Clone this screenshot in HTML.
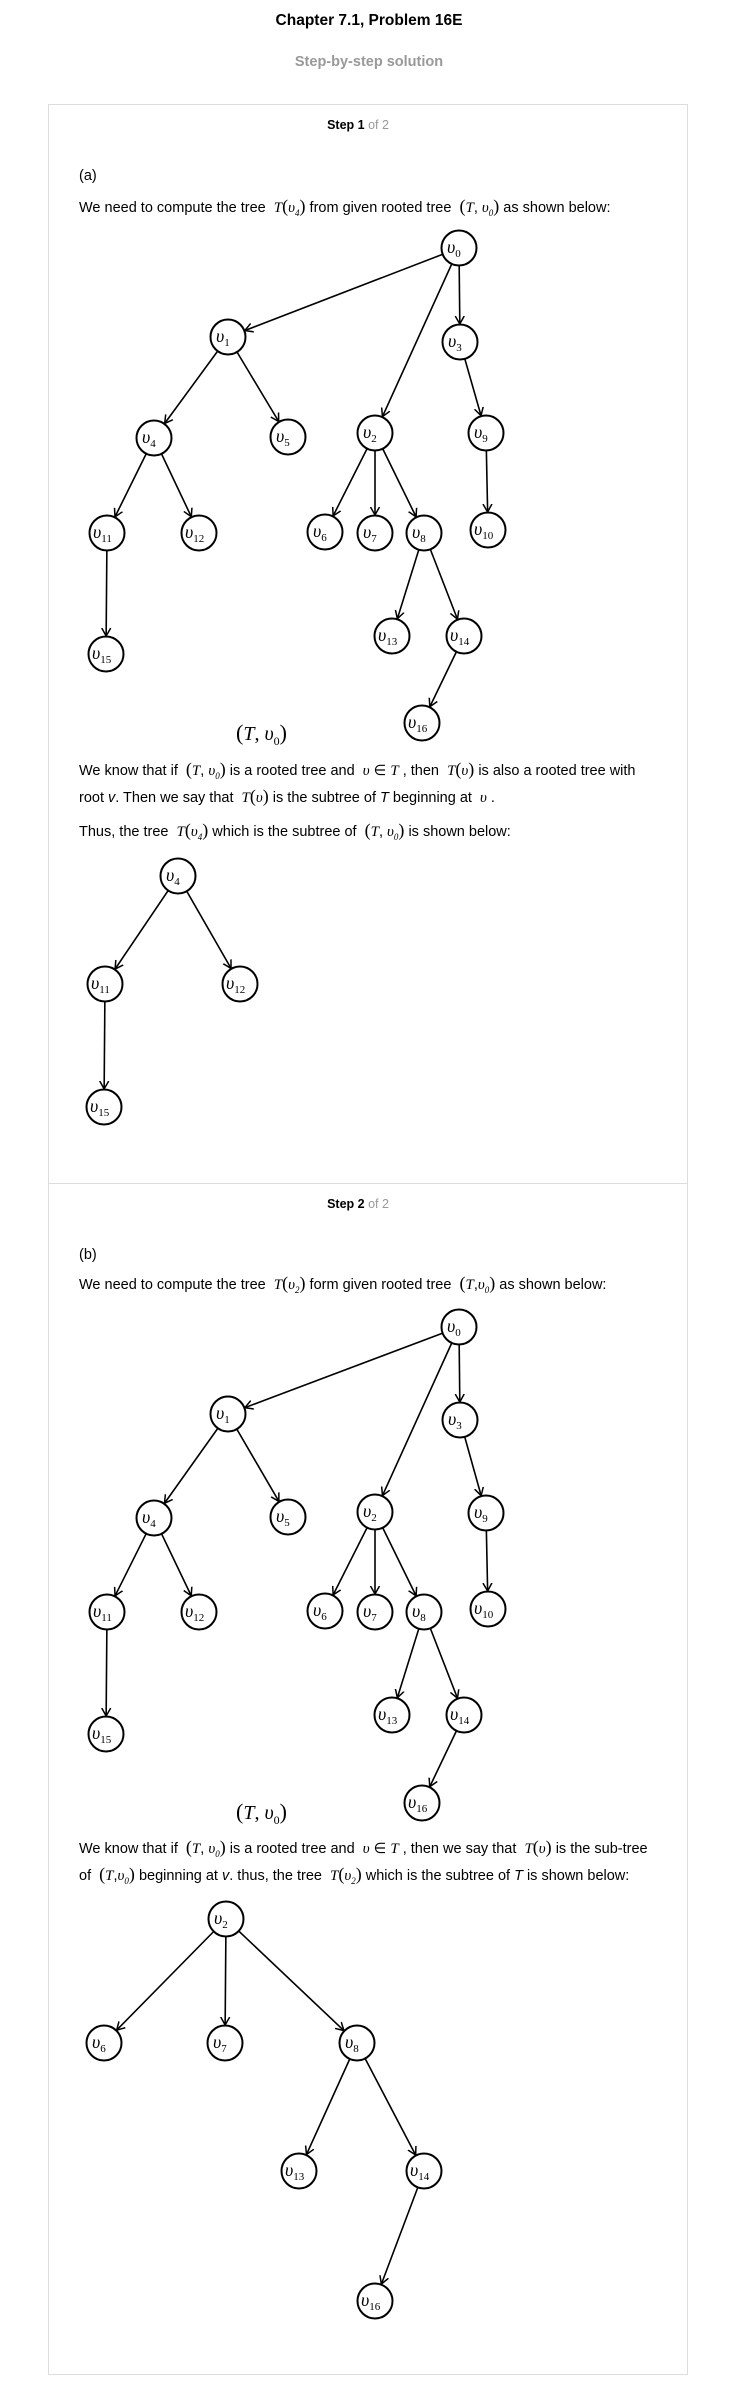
<!DOCTYPE html>
<html><head><meta charset="utf-8"><style>
body{margin:0;width:738px;height:2401px;position:relative;background:#fff;font-family:"Liberation Sans",Arial,sans-serif;color:#000;overflow:hidden}
.a{position:absolute;white-space:nowrap}
.t{font-size:14.5px;left:79px;line-height:18px}
.m{font-family:"Liberation Serif",serif;font-style:italic;font-size:15px}
.p{font-family:"Liberation Serif",serif;font-size:18px;font-style:normal}
.card{position:absolute;left:48px;width:640px;border:1px solid #ddd;box-sizing:border-box}
.st{font-size:12.5px;font-weight:bold;left:0;width:716px;text-align:center}
.st span{color:#999;font-weight:normal}
svg{position:absolute;left:0;top:0}
svg text{font-family:"Liberation Serif",serif}
</style></head><body>
<div class="a" style="top:12px;left:0;width:738px;text-align:center;font-weight:bold;font-size:15.5px">Chapter 7.1, Problem 16E</div>
<div class="a" style="top:54px;left:0;width:738px;text-align:center;font-weight:bold;font-size:14.5px;color:#999">Step-by-step solution</div>
<div class="card" style="top:104px;height:1080px"></div>
<div class="card" style="top:1183px;height:1192px"></div>
<div class="a st" style="top:118px">Step 1 <span>of 2</span></div>
<div class="a t" style="top:167px">(a)</div>
<div class="a t" style="top:197px">We need to compute the tree &nbsp;<span class="m">T</span><span class="p">(</span><span class="m">υ<sub style="font-size:9px">4</sub></span><span class="p">)</span> from given rooted tree &nbsp;<span class="p">(</span><span class="m">T</span>, <span class="m">υ<sub style="font-size:9px">0</sub></span><span class="p">)</span> as shown below:</div>
<div class="a" style="top:720px;left:236px;font-family:'Liberation Serif',serif;font-size:20px"><span class="p" style="font-size:22px">(</span><i>T</i>, <i>υ</i><sub style="font-size:12px">0</sub><span class="p" style="font-size:22px">)</span></div>
<div class="a t" style="top:760px">We know that if &nbsp;<span class="p">(</span><span class="m">T</span>, <span class="m">υ<sub style="font-size:9px">0</sub></span><span class="p">)</span> is a rooted tree and &nbsp;<span class="m">υ</span> ∈ <span class="m">T</span> , then &nbsp;<span class="m">T</span><span class="p">(</span><span class="m">υ</span><span class="p">)</span> is also a rooted tree with</div>
<div class="a t" style="top:787px">root <i>v</i>. Then we say that &nbsp;<span class="m">T</span><span class="p">(</span><span class="m">υ</span><span class="p">)</span> is the subtree of <i>T</i> beginning at &nbsp;<span class="m">υ</span> .</div>
<div class="a t" style="top:821px">Thus, the tree &nbsp;<span class="m">T</span><span class="p">(</span><span class="m">υ<sub style="font-size:9px">4</sub></span><span class="p">)</span> which is the subtree of &nbsp;<span class="p">(</span><span class="m">T</span>, <span class="m">υ<sub style="font-size:9px">0</sub></span><span class="p">)</span> is shown below:</div>

<div class="a st" style="top:1197px">Step 2 <span>of 2</span></div>
<div class="a t" style="top:1246px">(b)</div>
<div class="a t" style="top:1274px">We need to compute the tree &nbsp;<span class="m">T</span><span class="p">(</span><span class="m">υ<sub style="font-size:9px">2</sub></span><span class="p">)</span> form given rooted tree &nbsp;<span class="p">(</span><span class="m">T</span>,<span class="m">υ<sub style="font-size:9px">0</sub></span><span class="p">)</span> as shown below:</div>
<div class="a" style="top:1799px;left:236px;font-family:'Liberation Serif',serif;font-size:20px"><span class="p" style="font-size:22px">(</span><i>T</i>, <i>υ</i><sub style="font-size:12px">0</sub><span class="p" style="font-size:22px">)</span></div>
<div class="a t" style="top:1838px">We know that if &nbsp;<span class="p">(</span><span class="m">T</span>, <span class="m">υ<sub style="font-size:9px">0</sub></span><span class="p">)</span> is a rooted tree and &nbsp;<span class="m">υ</span> ∈ <span class="m">T</span> , then we say that &nbsp;<span class="m">T</span><span class="p">(</span><span class="m">υ</span><span class="p">)</span> is the sub-tree</div>
<div class="a t" style="top:1865px">of &nbsp;<span class="p">(</span><span class="m">T</span>,<span class="m">υ<sub style="font-size:9px">0</sub></span><span class="p">)</span> beginning at <i>v</i>. thus, the tree &nbsp;<span class="m">T</span><span class="p">(</span><span class="m">υ<sub style="font-size:9px">2</sub></span><span class="p">)</span> which is the subtree of <i>T</i> is shown below:</div>

<svg width="738" height="2401" viewBox="0 0 738 2401">
<defs><marker id="ar" markerUnits="userSpaceOnUse" markerWidth="32" markerHeight="12" viewBox="0 -6 32 12" refX="26" refY="0" orient="auto"><path d="M0,-4.5 L8,0 L0,4.5" fill="none" stroke="#000" stroke-width="1.5"/></marker></defs>
<g stroke="#000" stroke-width="1.6" marker-end="url(#ar)">
<line x1="459" y1="248" x2="228" y2="337"/><line x1="459" y1="248" x2="375" y2="433"/><line x1="459" y1="248" x2="460" y2="342"/>
<line x1="228" y1="337" x2="154" y2="438"/><line x1="228" y1="337" x2="288" y2="437"/><line x1="460" y1="342" x2="486" y2="433"/>
<line x1="154" y1="438" x2="107" y2="533"/><line x1="154" y1="438" x2="199" y2="533"/>
<line x1="375" y1="433" x2="325" y2="532"/><line x1="375" y1="433" x2="375" y2="533"/><line x1="375" y1="433" x2="424" y2="533"/>
<line x1="486" y1="433" x2="488" y2="530"/><line x1="107" y1="533" x2="106" y2="654"/>
<line x1="424" y1="533" x2="392" y2="636"/><line x1="424" y1="533" x2="464" y2="636"/><line x1="464" y1="636" x2="422" y2="723"/>
<line x1="178" y1="876" x2="105" y2="984"/><line x1="178" y1="876" x2="240" y2="984"/><line x1="105" y1="984" x2="104" y2="1107"/>
<line x1="459" y1="1327" x2="228" y2="1414"/><line x1="459" y1="1327" x2="375" y2="1512"/><line x1="459" y1="1327" x2="460" y2="1420"/>
<line x1="228" y1="1414" x2="154" y2="1518"/><line x1="228" y1="1414" x2="288" y2="1517"/><line x1="460" y1="1420" x2="486" y2="1513"/>
<line x1="154" y1="1518" x2="107" y2="1612"/><line x1="154" y1="1518" x2="199" y2="1612"/>
<line x1="375" y1="1512" x2="325" y2="1611"/><line x1="375" y1="1512" x2="375" y2="1612"/><line x1="375" y1="1512" x2="424" y2="1612"/>
<line x1="486" y1="1513" x2="488" y2="1609"/><line x1="107" y1="1612" x2="106" y2="1734"/>
<line x1="424" y1="1612" x2="392" y2="1715"/><line x1="424" y1="1612" x2="464" y2="1715"/><line x1="464" y1="1715" x2="422" y2="1803"/>
<line x1="226" y1="1919" x2="104" y2="2043"/><line x1="226" y1="1919" x2="225" y2="2043"/><line x1="226" y1="1919" x2="357" y2="2043"/>
<line x1="357" y1="2043" x2="299" y2="2171"/><line x1="357" y1="2043" x2="424" y2="2171"/><line x1="424" y1="2171" x2="375" y2="2301"/>
</g>
<g fill="#fff" stroke="#000" stroke-width="2">
<circle cx="459" cy="248" r="17.5"/><circle cx="228" cy="337" r="17.5"/><circle cx="460" cy="342" r="17.5"/><circle cx="154" cy="438" r="17.5"/><circle cx="288" cy="437" r="17.5"/><circle cx="375" cy="433" r="17.5"/><circle cx="486" cy="433" r="17.5"/><circle cx="107" cy="533" r="17.5"/><circle cx="199" cy="533" r="17.5"/><circle cx="325" cy="532" r="17.5"/><circle cx="375" cy="533" r="17.5"/><circle cx="424" cy="533" r="17.5"/><circle cx="488" cy="530" r="17.5"/><circle cx="106" cy="654" r="17.5"/><circle cx="392" cy="636" r="17.5"/><circle cx="464" cy="636" r="17.5"/><circle cx="422" cy="723" r="17.5"/>
<circle cx="178" cy="876" r="17.5"/><circle cx="105" cy="984" r="17.5"/><circle cx="240" cy="984" r="17.5"/><circle cx="104" cy="1107" r="17.5"/>
<circle cx="459" cy="1327" r="17.5"/><circle cx="228" cy="1414" r="17.5"/><circle cx="460" cy="1420" r="17.5"/><circle cx="154" cy="1518" r="17.5"/><circle cx="288" cy="1517" r="17.5"/><circle cx="375" cy="1512" r="17.5"/><circle cx="486" cy="1513" r="17.5"/><circle cx="107" cy="1612" r="17.5"/><circle cx="199" cy="1612" r="17.5"/><circle cx="325" cy="1611" r="17.5"/><circle cx="375" cy="1612" r="17.5"/><circle cx="424" cy="1612" r="17.5"/><circle cx="488" cy="1609" r="17.5"/><circle cx="106" cy="1734" r="17.5"/><circle cx="392" cy="1715" r="17.5"/><circle cx="464" cy="1715" r="17.5"/><circle cx="422" cy="1803" r="17.5"/>
<circle cx="226" cy="1919" r="17.5"/><circle cx="104" cy="2043" r="17.5"/><circle cx="225" cy="2043" r="17.5"/><circle cx="357" cy="2043" r="17.5"/><circle cx="299" cy="2171" r="17.5"/><circle cx="424" cy="2171" r="17.5"/><circle cx="375" cy="2301" r="17.5"/>
</g>
<g font-size="18" font-style="italic">
<text x="447" y="253">υ<tspan font-size="11" font-style="normal" dy="4">0</tspan></text>
<text x="216" y="342">υ<tspan font-size="11" font-style="normal" dy="4">1</tspan></text>
<text x="448" y="347">υ<tspan font-size="11" font-style="normal" dy="4">3</tspan></text>
<text x="142" y="443">υ<tspan font-size="11" font-style="normal" dy="4">4</tspan></text>
<text x="276" y="442">υ<tspan font-size="11" font-style="normal" dy="4">5</tspan></text>
<text x="363" y="438">υ<tspan font-size="11" font-style="normal" dy="4">2</tspan></text>
<text x="474" y="438">υ<tspan font-size="11" font-style="normal" dy="4">9</tspan></text>
<text x="93" y="538">υ<tspan font-size="11" font-style="normal" dy="4">11</tspan></text>
<text x="185" y="538">υ<tspan font-size="11" font-style="normal" dy="4">12</tspan></text>
<text x="313" y="537">υ<tspan font-size="11" font-style="normal" dy="4">6</tspan></text>
<text x="363" y="538">υ<tspan font-size="11" font-style="normal" dy="4">7</tspan></text>
<text x="412" y="538">υ<tspan font-size="11" font-style="normal" dy="4">8</tspan></text>
<text x="474" y="535">υ<tspan font-size="11" font-style="normal" dy="4">10</tspan></text>
<text x="92" y="659">υ<tspan font-size="11" font-style="normal" dy="4">15</tspan></text>
<text x="378" y="641">υ<tspan font-size="11" font-style="normal" dy="4">13</tspan></text>
<text x="450" y="641">υ<tspan font-size="11" font-style="normal" dy="4">14</tspan></text>
<text x="408" y="728">υ<tspan font-size="11" font-style="normal" dy="4">16</tspan></text>
<text x="166" y="881">υ<tspan font-size="11" font-style="normal" dy="4">4</tspan></text>
<text x="91" y="989">υ<tspan font-size="11" font-style="normal" dy="4">11</tspan></text>
<text x="226" y="989">υ<tspan font-size="11" font-style="normal" dy="4">12</tspan></text>
<text x="90" y="1112">υ<tspan font-size="11" font-style="normal" dy="4">15</tspan></text>
<text x="447" y="1332">υ<tspan font-size="11" font-style="normal" dy="4">0</tspan></text>
<text x="216" y="1419">υ<tspan font-size="11" font-style="normal" dy="4">1</tspan></text>
<text x="448" y="1425">υ<tspan font-size="11" font-style="normal" dy="4">3</tspan></text>
<text x="142" y="1523">υ<tspan font-size="11" font-style="normal" dy="4">4</tspan></text>
<text x="276" y="1522">υ<tspan font-size="11" font-style="normal" dy="4">5</tspan></text>
<text x="363" y="1517">υ<tspan font-size="11" font-style="normal" dy="4">2</tspan></text>
<text x="474" y="1518">υ<tspan font-size="11" font-style="normal" dy="4">9</tspan></text>
<text x="93" y="1617">υ<tspan font-size="11" font-style="normal" dy="4">11</tspan></text>
<text x="185" y="1617">υ<tspan font-size="11" font-style="normal" dy="4">12</tspan></text>
<text x="313" y="1616">υ<tspan font-size="11" font-style="normal" dy="4">6</tspan></text>
<text x="363" y="1617">υ<tspan font-size="11" font-style="normal" dy="4">7</tspan></text>
<text x="412" y="1617">υ<tspan font-size="11" font-style="normal" dy="4">8</tspan></text>
<text x="474" y="1614">υ<tspan font-size="11" font-style="normal" dy="4">10</tspan></text>
<text x="92" y="1739">υ<tspan font-size="11" font-style="normal" dy="4">15</tspan></text>
<text x="378" y="1720">υ<tspan font-size="11" font-style="normal" dy="4">13</tspan></text>
<text x="450" y="1720">υ<tspan font-size="11" font-style="normal" dy="4">14</tspan></text>
<text x="408" y="1808">υ<tspan font-size="11" font-style="normal" dy="4">16</tspan></text>
<text x="214" y="1924">υ<tspan font-size="11" font-style="normal" dy="4">2</tspan></text>
<text x="92" y="2048">υ<tspan font-size="11" font-style="normal" dy="4">6</tspan></text>
<text x="213" y="2048">υ<tspan font-size="11" font-style="normal" dy="4">7</tspan></text>
<text x="345" y="2048">υ<tspan font-size="11" font-style="normal" dy="4">8</tspan></text>
<text x="285" y="2176">υ<tspan font-size="11" font-style="normal" dy="4">13</tspan></text>
<text x="410" y="2176">υ<tspan font-size="11" font-style="normal" dy="4">14</tspan></text>
<text x="361" y="2306">υ<tspan font-size="11" font-style="normal" dy="4">16</tspan></text>
</g>
</svg>
</body></html>
